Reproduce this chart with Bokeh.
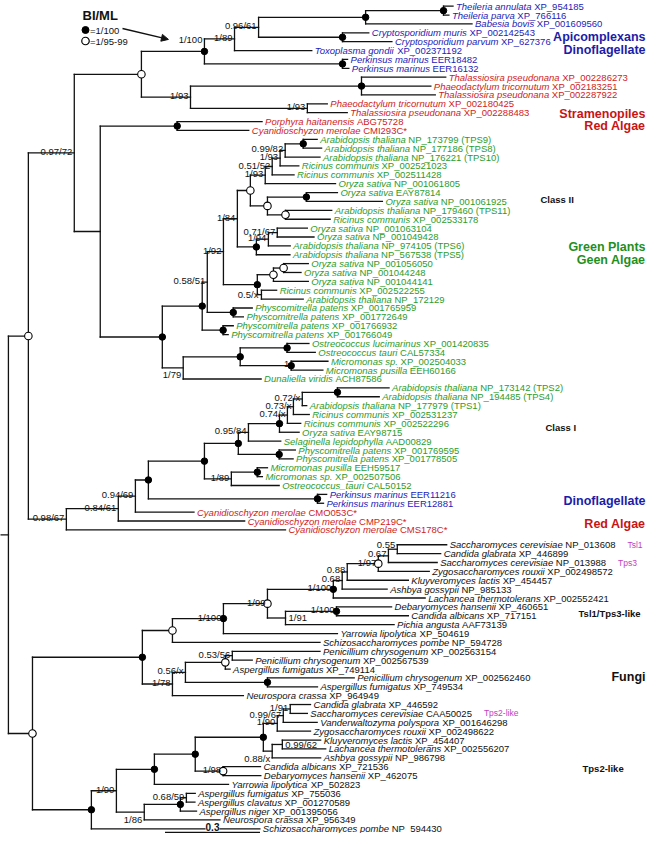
from bokeh.plotting import figure
from bokeh.models import Range1d, ColumnDataSource, Arrow, NormalHead, Label
from bokeh.embed import file_html
from bokeh.resources import INLINE
from bokeh.core.properties import value

# ======================= DATA =======================
# internal nodes: id, parent, branch length (subst./site), support (BI/ML), marker (f = 1/100, o = 1/95-99)
node_id = [
    "R", "NF", "N097", "RN", "Ctop",
    "A", "A89", "A96", "TB", "TP", "CR", "PK",
    "S", "S3", "S93", "RP",
    "G2", "G2a", "G58", "G92", "G84", "Go1", "G93b", "G051", "G93a", "G099", "GT98",
    "Go2", "GE", "Go3", "GF", "G194", "G071", "GB", "Go4", "Go5", "G05", "GP1", "GP2",
    "GC", "GC2", "GO", "GM",
    "CMS", "C84", "C94", "P", "C1", "C1L", "C95", "C1f", "C74", "C73", "C72", "CT24", "CPp", "C89", "CMi", "PK2",
    "FU", "T1", "T1a", "T1b", "T99", "T100", "T068", "T088", "T97", "T067", "T055", "T91", "TDC",
    "T78", "T56", "To", "T53", "TPA",
    "T2", "T290", "T2s", "T2c", "T2d", "T2e", "T2f", "T2g", "T2h", "T2i", "T2j", "T2k", "T2l", "T2m"]
node_parent = [
    "", "R", "NF", "N097", "N097",
    "Ctop", "A", "A89", "A96", "TB", "A96", "A",
    "Ctop", "S", "S", "RN",
    "RN", "G2", "G2a", "G58", "G92", "G84", "Go1", "G93b", "G051", "G93a", "G099",
    "Go1", "Go2", "Go2", "G84", "GF", "G194", "G92", "GB", "Go4", "GB", "G58", "G2a",
    "G2", "GC", "GC2", "GC2",
    "NF", "CMS", "C84", "C94", "P", "C1", "C1L", "C95", "C1f", "C74", "C73", "C72", "C1L", "C1", "C89", "P",
    "R", "FU", "T1", "T1a", "T1b", "T99", "T100", "T068", "T088", "T97", "T067", "T99", "T91",
    "T1", "T78", "T56", "To", "T56",
    "FU", "T2", "T290", "T2s", "T2c", "T2d", "T2e", "T2f", "T2d", "T2h", "T2c", "T290", "T2k", "T2l"]
node_len = [
    0.025, 0.063, 0.145, 0.082, 0.212,
    0.199, 0.095, 0.076, 0.338, 0.246, 0.265, 0.436,
    0.155, 0.540, 0.369, 0.243,
    0.196, 0.126, 0.016, 0.051, 0.044, 0.041, 0.047, 0.022, 0.025, 0.016, 0.057,
    0.054, 0.123, 0.057, 0.060, 0.038, 0.028, 0.107, 0.051, 0.032, 0.013, 0.082, 0.066,
    0.066, 0.180, 0.148, 0.161,
    0.120, 0.164, 0.054, 0.041, 0.177, 0.107, 0.032, 0.098, 0.025, 0.019, 0.028, 0.111, 0.129, 0.085, 0.082, 0.534,
    0.076, 0.347, 0.095, 0.161, 0.139, 0.208, 0.028, 0.016, 0.098, 0.032, 0.028, 0.057, 0.161,
    0.095, 0.041, 0.126, 0.022, 0.259,
    0.186, 0.079, 0.120, 0.129, 0.215, 0.044, 0.019, 0.022, 0.028, 0.032, 0.088, 0.088, 0.114, 0.019]
node_support = [
    "", "", "0.97/72", "", "",
    "1/100", "1/89", "0.96/61", "", "", "", "",
    "1/93", "", "1/93", "",
    "", "", "0.58/51", "1/92", "1/84", "", "1/93", "0.51/52", "1/93", "0.99/82", "",
    "", "", "", "", "1/94", "0.71/67", "", "", "", "0.5/x", "", "",
    "1/79", "", "", "1",
    "0.98/67", "0.84/61", "0.94/69", "", "", "", "0.95/84", "", "0.74/x", "0.73/x", "0.72/x", "", "", "1/89", "", "",
    "", "", "", "1/100", "1/99", "1/100", "0.68", "0.88", "1/97", "0.67", "0.55", "1/91", "1/100",
    "1/78", "0.56/x", "", "0.53/56", "",
    "", "1/90", "", "", "", "1/90", "0.99/67", "1/91", "0.88/x", "0.99/62", "1/98", "1/86", "", "0.68/59"]
node_marker = [
    "", "o", "", "", "o",
    "f", "", "", "f", "f", "f", "f",
    "", "f", "", "f",
    "f", "f", "", "", "", "o", "", "", "", "", "f",
    "o", "f", "o", "f", "", "", "f", "o", "o", "", "f", "f",
    "", "f", "f", "f",
    "", "", "", "f", "f", "f", "", "f", "", "", "", "f", "f", "", "f", "f",
    "o", "f", "o", "f", "o", "f", "", "", "o", "", "", "", "f",
    "", "", "o", "", "f",
    "f", "", "f", "f", "f", "", "", "", "", "", "o", "", "f", ""]

# leaves (top to bottom)
leaf_species = [
    "Theileria annulata", "Theileria parva", "Babesia bovis", "Cryptosporidium muris",
    "Cryptosporidium parvum", "Toxoplasma gondii", "Perkinsus marinus", "Perkinsus marinus",
    "Thalassiosira pseudonana", "Phaeodactylum tricornutum", "Thalassiosira pseudonana",
    "Phaeodactylum tricornutum", "Thalassiosira pseudonana", "Porphyra haitanensis",
    "Cyanidioschyzon merolae",
    "Arabidopsis thaliana", "Arabidopsis thaliana", "Arabidopsis thaliana", "Ricinus communis",
    "Ricinus communis", "Oryza sativa", "Oryza sativa", "Oryza sativa", "Arabidopsis thaliana",
    "Ricinus communis", "Oryza sativa", "Oryza sativa", "Arabidopsis thaliana", "Arabidopsis thaliana",
    "Oryza sativa", "Oryza sativa", "Oryza sativa", "Ricinus communis", "Arabidopsis thaliana",
    "Physcomitrella patens", "Physcomitrella patens", "Physcomitrella patens", "Physcomitrella patens",
    "Ostreococcus lucimarinus", "Ostreococcus tauri", "Micromonas sp.", "Micromonas pusilla",
    "Dunaliella viridis",
    "Arabidopsis thaliana", "Arabidopsis thaliana", "Arabidopsis thaliana", "Ricinus communis",
    "Ricinus communis", "Oryza sativa", "Selaginella lepidophylla", "Physcomitrella patens",
    "Physcomitrella patens", "Micromonas pusilla", "Micromonas sp.", "Ostreococcus_tauri",
    "Perkinsus marinus", "Perkinsus marinus",
    "Cyanidioschyzon merolae", "Cyanidioschyzon merolae", "Cyanidioschyzon merolae",
    "Saccharomyces cerevisiae", "Candida glabrata", "Saccharomyces cerevisiae",
    "Zygosaccharomyces rouxii", "Kluyveromyces lactis", "Ashbya gossypii", "Lachancea thermotolerans",
    "Debaryomyces hansenii", "Candida albicans", "Pichia angusta", "Yarrowia lipolytica",
    "Schizosaccharomyces pombe", "Penicillium chrysogenum", "Penicillium chrysogenum",
    "Aspergillus fumigatus", "Penicillium chrysogenum", "Aspergillus fumigatus", "Neurospora crassa",
    "Candida glabrata", "Saccharomyces cerevisiae", "Vanderwaltozyma polyspora",
    "Zygosaccharomyces rouxii", "Kluyveromyces lactis", "Lachancea thermotolerans", "Ashbya gossypii",
    "Candida albicans", "Debaryomyces hansenii", "Yarrowia lipolytica", "Aspergillus fumigatus",
    "Aspergillus clavatus", "Aspergillus niger", "Neurospora crassa", "Schizosaccharomyces pombe"]
leaf_acc = [
    "XP_954185", "XP_766116", "XP_001609560", "XP_002142543", "XP_627376", "XP_002371192",
    "EER18482", "EER16132",
    "XP_002286273", "XP_002183251", "XP_002287922", "XP_002180425", "XP_002288483",
    "ABG75728", "CMI293C*",
    "NP_173799 (TPS9)", "NP_177186 (TPS8)", "NP_176221 (TPS10)", "XP_002521023", "XP_002511428",
    "NP_001061805", "EAY87814", "NP_001061925", "NP_179460 (TPS11)", "XP_002533178",
    "NP_001063104", "NP_001049428", "NP_974105 (TPS6)", "NP_567538 (TPS5)", "NP_001056050",
    "NP_001044248", "NP_001044141", "XP_002522255", "NP_172129", "XP_001765959", "XP_001772649",
    "XP_001766932", "XP_001766049", "XP_001420835", "CAL57334", "XP_002504033", "EEH60166",
    "ACH87586",
    "NP_173142 (TPS2)", "NP_194485 (TPS4)", "NP_177979 (TPS1)", "XP_002531237", "XP_002522296",
    "EAY98715", "AAD00829", "XP_001769595", "XP_001778505", "EEH59517", "XP_002507506", "CAL50152",
    "EER11216", "EER12881", "CMO053C*", "CMP219C*", "CMS178C*",
    "NP_013608", "XP_446899", "NP_013988", "XP_002498572", "XP_454457", "NP_985133",
    "XP_002552421", "XP_460651", "XP_717151", "AAF73139", "XP_504619", "NP_594728",
    "XP_002563154", "XP_002567539", "XP_749114", "XP_002562460", "XP_749534", "XP_964949",
    "XP_446592", "CAA50025", "XP_001646298", "XP_002498622", "XP_454407", "XP_002556207",
    "NP_986798", "XP_721536", "XP_462075", "XP_502823", "XP_755036", "XP_001270589",
    "XP_001395056", "XP_956349", "NP_594430"]
leaf_parent = [
    "TP", "TP", "TB", "CR", "CR", "A89", "PK", "PK",
    "S3", "S3", "S3", "S93", "S93", "RP", "RP",
    "GT98", "GT98", "G099", "G93a", "G051", "G93b", "GE", "GE", "Go3", "Go3",
    "G071", "G071", "G194", "GF", "Go5", "Go5", "Go4", "G05", "G05",
    "GP1", "GP1", "GP2", "GP2", "GO", "GO", "GM", "GM", "GC",
    "CT24", "CT24", "C72", "C73", "C74", "C1f", "C95", "CPp", "CPp", "CMi", "CMi", "C89",
    "PK2", "PK2", "C94", "C84", "CMS",
    "T055", "T055", "T067", "T97", "T088", "T068", "T100", "TDC", "TDC", "T91", "T1b", "T1a",
    "T53", "T53", "To", "TPA", "TPA", "T78",
    "T2g", "T2g", "T2f", "T2e", "T2i", "T2i", "T2h", "T2j", "T2j", "T2s",
    "T2m", "T2m", "T2l", "T2k", "T2"]
leaf_len = [
    0.030, 0.017, 0.336, 0.083, 0.156, 0.244, 0.016, 0.020,
    0.266, 0.219, 0.233, 0.063, 0.126, 0.268, 0.226,
    0.044, 0.058, 0.110, 0.059, 0.069, 0.222, 0.098, 0.240, 0.146, 0.141,
    0.095, 0.116, 0.069, 0.106, 0.078, 0.055, 0.110, 0.048, 0.132,
    0.060, 0.032, 0.032, 0.016, 0.069, 0.089, 0.116, 0.100, 0.246,
    0.163, 0.132, 0.014, 0.050, 0.042, 0.062, 0.102, 0.051, 0.044, 0.032, 0.016, 0.151,
    0.029, 0.019, 0.185, 0.399, 0.692,
    0.156, 0.137, 0.154, 0.161, 0.193, 0.142, 0.290, 0.174, 0.227, 0.343, 0.360, 0.466,
    0.277, 0.063, 0.015, 0.274, 0.158, 0.224,
    0.064, 0.054, 0.107, 0.105, 0.121, 0.137, 0.153, 0.118, 0.119, 0.234,
    0.028, 0.027, 0.051, 0.239, 0.532]
leaf_group = (["alveolate"] * 8 + ["stramenopile_red"] * 7 + ["green"] * 40 +
              ["alveolate"] * 2 + ["stramenopile_red"] * 3 + ["fungi"] * 33)

tag_leaf = [60, 62, 79]
tag_text = ["Tsl1", "Tps3", "Tps2-like"]

group_text = ["Apicomplexans", "Dinoflagellate", "Stramenopiles", "Red Algae", "Class II",
              "Green Plants", "Geen Algae", "Class I", "Dinoflagellate", "Red Algae",
              "Tsl1/Tps3-like", "Fungi", "Tps2-like"]

SCALE_BAR = 0.3

# ======================= LAYOUT / STYLE =======================
W_FIG, H_FIG = 646, 833
X_RANGE = (0, W_FIG)          # data units == picture pixels
Y_RANGE = (H_FIG, 0)
PX_PER_UNIT = 95 / 0.3
X0 = 0.0
Y_TOP = 5.7
FUNGI_GAP = 6.0
Y_LAST = 828.3
FONT = value("Liberation Sans")
FS_LEAF = 9.5
FS_SUP = 9.5

COLORS = {"alveolate": "#2323b8", "stramenopile_red": "#cf1c1c", "green": "#2c9c2c", "fungi": "#111111"}
MAGENTA = "#c23ec2"

group_x = [645, 645, 645, 645, 540, 645, 645, 545, 645, 645, 578, 645, 582]
group_y = [36, 49.3, 113.3, 125.5, 199, 246, 259.3, 426.7, 500, 523.3, 612.7, 676.7, 768.3]
group_align = ["right"] * 4 + ["left"] + ["right"] * 2 + ["left"] + ["right"] * 2 + ["left", "right", "left"]
group_color = ["#1c1ca8", "#1c1ca8", "#c81414", "#c81414", "#111111", "#1f8f1f", "#1f8f1f",
               "#111111", "#1c1ca8", "#c81414", "#111111", "#111111", "#111111"]
group_size = ["12.5px"] * 4 + ["9.5px"] + ["12.5px"] * 2 + ["9.5px"] + ["12.5px"] * 2 + ["9.5px", "12.5px", "9.5px"]

label_place = {"A": "top", "T055": "top", "GC": "below", "T2h": "below", "T2k": "below",
               "T91": "inside", "T2i": "inside", "G05": "mid"}

# Arial / Liberation Sans advance widths (1/1000 em)
W = dict(zip(" !\"#$%&'()*+,-./", [278, 278, 355, 556, 556, 889, 667, 191, 333, 333, 389, 584, 278, 333, 278, 278]))
W.update({d: 556 for d in "0123456789"})
W.update(dict(zip(":;<=>?@", [278, 278, 584, 584, 584, 556, 1015])))
W.update(dict(zip("ABCDEFGHIJKLMNOPQRSTUVWXYZ",
                  [667, 667, 722, 722, 667, 611, 778, 722, 278, 500, 667, 556, 833, 722, 778, 667, 778,
                   722, 667, 611, 722, 667, 944, 667, 667, 611])))
W.update(dict(zip("[\\]^_`", [278, 278, 278, 469, 556, 333])))
W.update(dict(zip("abcdefghijklmnopqrstuvwxyz",
                  [556, 556, 500, 556, 556, 278, 556, 556, 222, 222, 500, 222, 833, 556, 556, 556, 556,
                   333, 500, 278, 556, 500, 722, 500, 500, 500])))


def tw(s, fs):
    return sum(W.get(c, 556) for c in s) * fs / 1000.0


# ---------------- tree layout ----------------
children = {n: [] for n in node_id}
for n, par in zip(node_id, node_parent):
    if par:
        children[par].append(("n", n))
for k, par in enumerate(leaf_parent):
    children[par].append(("l", k))

nlen = dict(zip(node_id, node_len))
npar = dict(zip(node_id, node_parent))
depth = {}


def get_depth(n):
    if n not in depth:
        depth[n] = nlen[n] + (get_depth(npar[n]) if npar[n] else 0.0)
    return depth[n]


for n in node_id:
    get_depth(n)
node_x = {n: X0 + depth[n] * PX_PER_UNIT for n in node_id}

n_leaf = len(leaf_species)
first_fungi = leaf_group.index("fungi")
DY = (Y_LAST - FUNGI_GAP - Y_TOP) / (n_leaf - 1)
leaf_y = [Y_TOP + k * DY + (FUNGI_GAP if k >= first_fungi else 0.0) for k in range(n_leaf)]
leaf_x = [node_x[leaf_parent[k]] + leaf_len[k] * PX_PER_UNIT for k in range(n_leaf)]

node_y = {}


def child_y(c):
    return leaf_y[c[1]] if c[0] == "l" else get_y(c[1])


def get_y(n):
    if n not in node_y:
        ys = [child_y(c) for c in children[n]]
        node_y[n] = (min(ys) + max(ys)) / 2.0
    return node_y[n]


for n in node_id:
    get_y(n)

# ---------------- segments ----------------
sx0, sy0, sx1, sy1 = [], [], [], []
root = node_id[0]
sx0.append(X0); sy0.append(node_y[root]); sx1.append(node_x[root]); sy1.append(node_y[root])
for n in node_id[1:]:
    sx0.append(node_x[npar[n]]); sy0.append(node_y[n]); sx1.append(node_x[n]); sy1.append(node_y[n])
for k in range(n_leaf):
    px = node_x[leaf_parent[k]]
    sx0.append(px); sy0.append(leaf_y[k]); sx1.append(leaf_x[k]); sy1.append(leaf_y[k])
for n in node_id:
    ys = [child_y(c) for c in children[n]]
    sx0.append(node_x[n]); sy0.append(min(ys)); sx1.append(node_x[n]); sy1.append(max(ys))

p = figure(width=W_FIG, height=H_FIG, x_range=Range1d(*X_RANGE), y_range=Range1d(*Y_RANGE),
           x_axis_type=None, y_axis_type=None, output_backend="svg", toolbar_location=None,
           min_border=0)
p.grid.visible = False
p.outline_line_color = None
p.background_fill_color = "white"
p.border_fill_color = "white"

p.segment(x0="x0", y0="y0", x1="x1", y1="y1",
          source=ColumnDataSource(dict(x0=sx0, y0=sy0, x1=sx1, y1=sy1)),
          line_color="#111111", line_width=1.3, line_cap="square")

# ---------------- node markers ----------------
fx = [node_x[n] for n, m in zip(node_id, node_marker) if m == "f"]
fy = [node_y[n] for n, m in zip(node_id, node_marker) if m == "f"]
ox = [node_x[n] for n, m in zip(node_id, node_marker) if m == "o"]
oy = [node_y[n] for n, m in zip(node_id, node_marker) if m == "o"]
p.scatter(fx, fy, size=6.5, marker="circle", fill_color="#000000", line_color="#000000")
p.scatter(ox, oy, size=7.5, marker="circle", fill_color="white", line_color="#000000", line_width=1.1)

# ---------------- support labels ----------------
sup = {m: dict(x=[], y=[], t=[]) for m in ("above", "top", "below", "inside", "mid")}
for n, s in zip(node_id, node_support):
    if not s:
        continue
    mode = label_place.get(n, "above")
    x, y = node_x[n], node_y[n]
    if mode == "above":
        sup[mode]["x"].append(x - 2); sup[mode]["y"].append(y - 1.5)
    elif mode == "top":
        ytop = min(child_y(c) for c in children[n])
        sup[mode]["x"].append(x - 2); sup[mode]["y"].append(ytop + 0.5)
    elif mode == "below":
        sup[mode]["x"].append(x - 2); sup[mode]["y"].append(y + 1.5)
    elif mode == "inside":
        sup[mode]["x"].append(x + 3); sup[mode]["y"].append(y)
    else:
        sup[mode]["x"].append(x - 3); sup[mode]["y"].append(y)
    sup[mode]["t"].append(s)

modes = {"above": ("right", "alphabetic"), "top": ("right", "alphabetic"), "below": ("right", "top"),
         "inside": ("left", "middle"), "mid": ("right", "middle")}
for mode, (al, bl) in modes.items():
    d = sup[mode]
    if d["t"]:
        p.text(x=d["x"], y=d["y"], text=d["t"], text_font=FONT, text_font_size=value(f"{FS_SUP}px"),
               text_color="#111111", text_align=al, text_baseline=bl)

# ---------------- leaf labels ----------------
spx = [leaf_x[k] + 3 for k in range(n_leaf)]
acx = [spx[k] + tw(leaf_species[k] + " ", FS_LEAF) for k in range(n_leaf)]
lcol = [COLORS[g] for g in leaf_group]
p.text(x=spx, y=leaf_y, text=leaf_species, text_font=FONT, text_font_size=value(f"{FS_LEAF}px"),
       text_font_style="italic", text_color=lcol, text_align="left", text_baseline="middle")
p.text(x=acx, y=leaf_y, text=leaf_acc, text_font=FONT, text_font_size=value(f"{FS_LEAF}px"),
       text_color=lcol, text_align="left", text_baseline="middle")

tx = [acx[k] + tw(leaf_acc[k], FS_LEAF) + 12 for k in tag_leaf]
ty = [leaf_y[k] for k in tag_leaf]
p.text(x=tx, y=ty, text=tag_text, text_font=FONT, text_font_size=value("8.5px"),
       text_color=MAGENTA, text_align="left", text_baseline="middle")

# ---------------- group labels ----------------
for t, x, y, al, c, s in zip(group_text, group_x, group_y, group_align, group_color, group_size):
    p.text(x=[x], y=[y], text=[t], text_font=FONT, text_font_size=value(s), text_font_style="bold",
           text_color=c, text_align=al, text_baseline="middle")

# ---------------- legend ----------------
p.text(x=[82], y=[15], text=["BI/ML"], text_font=FONT, text_font_size=value("13px"),
       text_font_style="bold", text_color="#111111", text_align="left", text_baseline="middle")
p.scatter([85], [29.5], size=7, marker="circle", fill_color="#000000", line_color="#000000")
p.scatter([85], [40.5], size=7.5, marker="circle", fill_color="white", line_color="#000000", line_width=1.2)
p.text(x=[89.5, 89.5], y=[29.5, 40.5], text=["=1/100", "=1/95-99"], text_font=FONT,
       text_font_size=value("9.5px"), text_color="#111111", text_align="left", text_baseline="middle")
p.add_layout(Arrow(end=NormalHead(size=7, fill_color="#111111", line_color="#111111"),
                   x_start=122, y_start=28, x_end=node_x["A"] - 36, y_end=node_y["A"] - 12,
                   line_color="#111111", line_width=1.3))

# ---------------- scale bar ----------------
BAR_X, BAR_Y = 164.5, 832.0
bar_len = SCALE_BAR * PX_PER_UNIT
p.segment(x0=[BAR_X], y0=[BAR_Y], x1=[BAR_X + bar_len], y1=[BAR_Y],
          line_color="#111111", line_width=1.6)
p.add_layout(Label(x=BAR_X + bar_len / 2, y=BAR_Y - 1.2, text=f"{SCALE_BAR:g}", text_font="Liberation Sans",
                   text_font_size="10px", text_font_style="bold", text_color="#111111",
                   text_align="center", text_baseline="bottom", background_fill_color="white",
                   background_fill_alpha=1.0))

open("out.html", "w").write(file_html(p, INLINE))
